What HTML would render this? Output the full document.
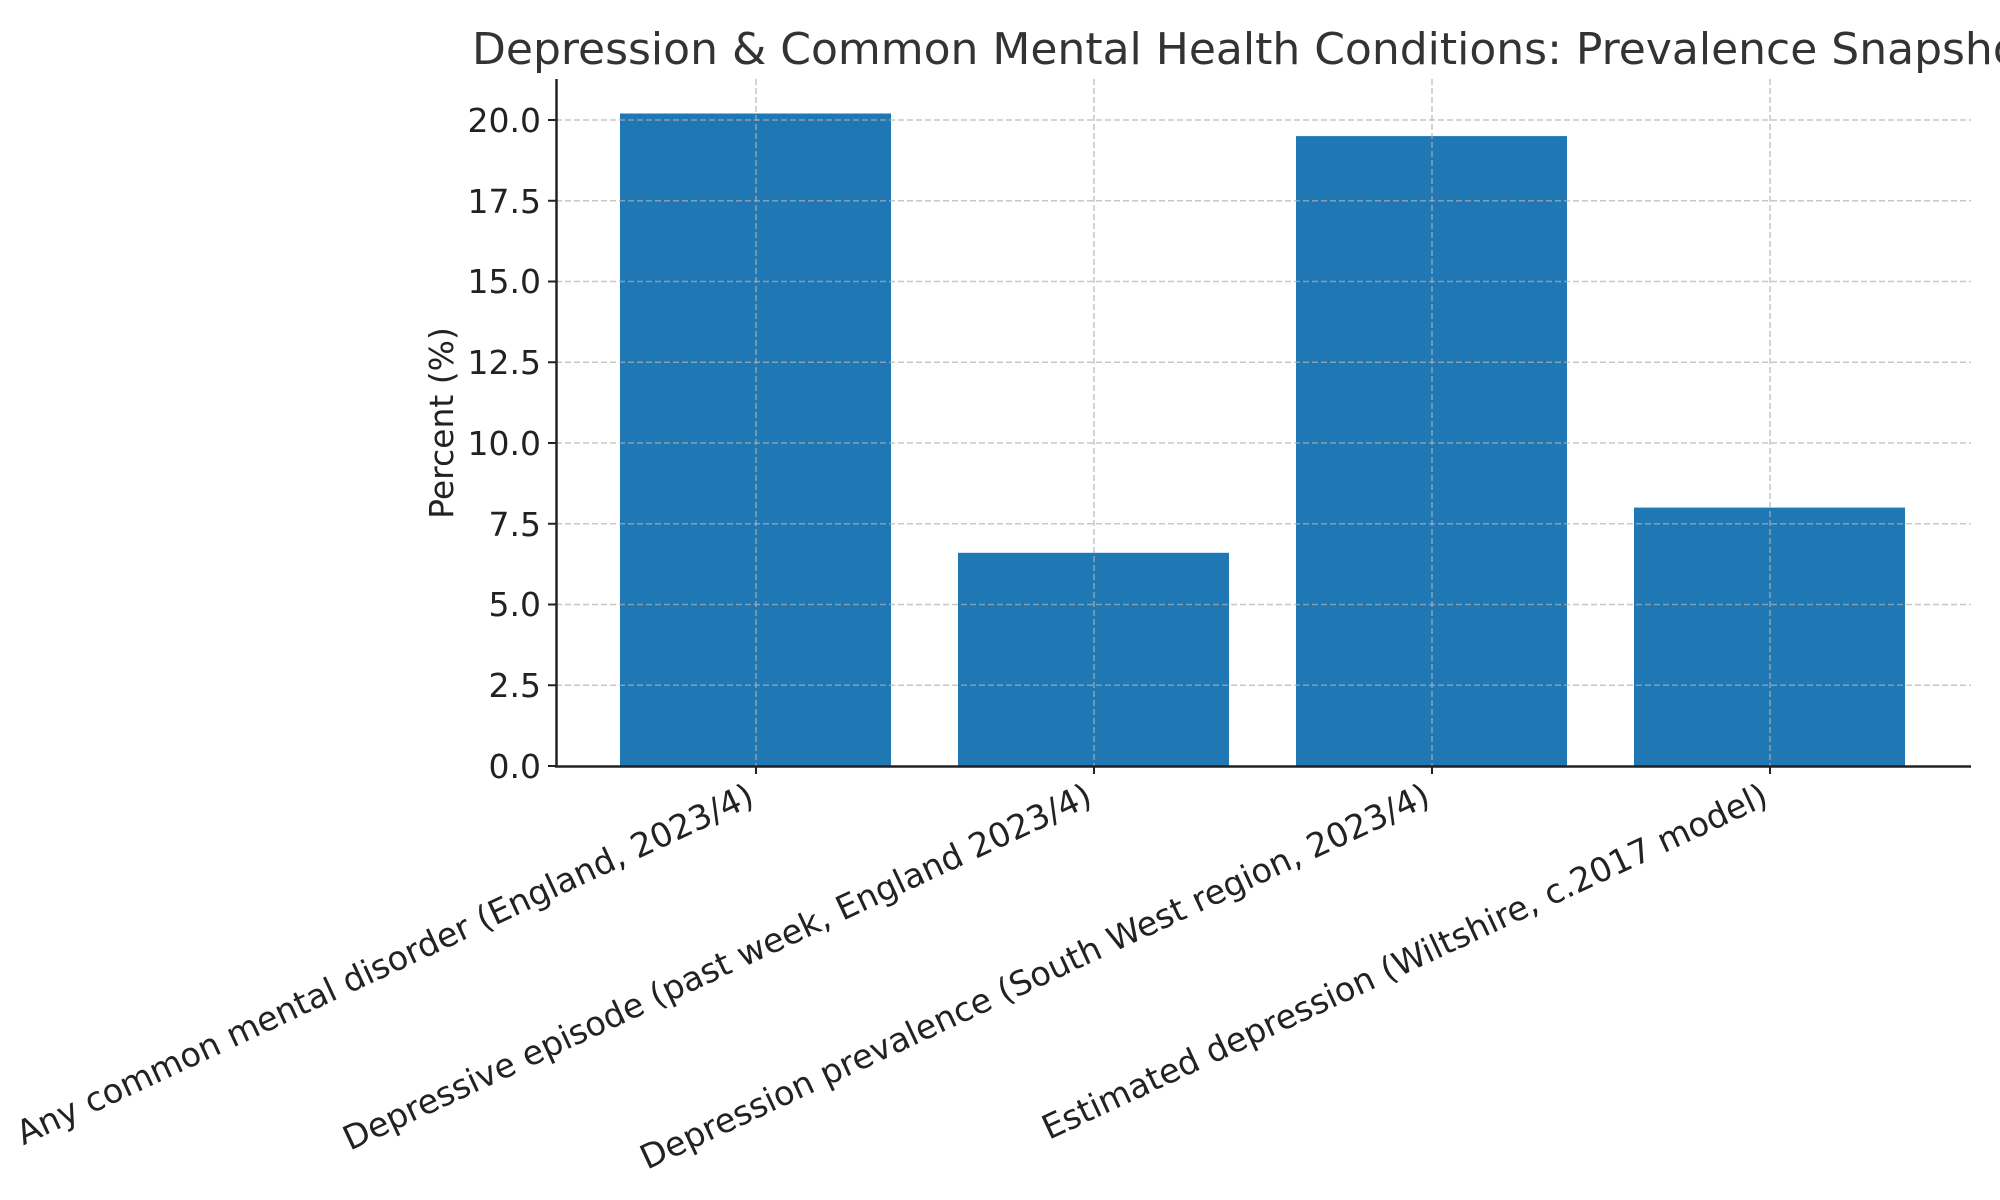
<!DOCTYPE html>
<html><head><meta charset="utf-8"><style>html,body{margin:0;padding:0;background:#fff}svg{display:block}</style></head>
<body>
<svg width="2000" height="1200" xmlns="http://www.w3.org/2000/svg" font-family="'DejaVu Sans','Liberation Sans',sans-serif">
<rect width="2000" height="1200" fill="#fff"/>
<g fill="#1f77b4">
<rect x="620" y="113.5" width="271" height="652.5"/>
<rect x="958" y="552.8" width="271" height="213.2"/>
<rect x="1296" y="136.1" width="271" height="629.9"/>
<rect x="1634" y="507.6" width="271" height="258.4"/>
</g>
<g stroke="#b0b0b0" stroke-opacity="0.7" stroke-width="1.6" stroke-dasharray="6,3">
<line x1="556" x2="1971" y1="685.25" y2="685.25"/>
<line x1="556" x2="1971" y1="604.5" y2="604.5"/>
<line x1="556" x2="1971" y1="523.75" y2="523.75"/>
<line x1="556" x2="1971" y1="443" y2="443"/>
<line x1="556" x2="1971" y1="362.25" y2="362.25"/>
<line x1="556" x2="1971" y1="281.5" y2="281.5"/>
<line x1="556" x2="1971" y1="200.75" y2="200.75"/>
<line x1="556" x2="1971" y1="120" y2="120"/>
<line x1="756" x2="756" y1="79" y2="766"/>
<line x1="1094" x2="1094" y1="79" y2="766"/>
<line x1="1432" x2="1432" y1="79" y2="766"/>
<line x1="1770" x2="1770" y1="79" y2="766"/>
</g>
<g stroke="#222" stroke-width="2.5">
<line x1="556.5" y1="79" x2="556.5" y2="767"/>
<line x1="555" y1="766.5" x2="1971" y2="766.5"/>
</g>
<g stroke="#222" stroke-width="2">
<line x1="548" x2="556" y1="766" y2="766"/><line x1="548" x2="556" y1="685.25" y2="685.25"/><line x1="548" x2="556" y1="604.5" y2="604.5"/><line x1="548" x2="556" y1="523.75" y2="523.75"/><line x1="548" x2="556" y1="443" y2="443"/><line x1="548" x2="556" y1="362.25" y2="362.25"/><line x1="548" x2="556" y1="281.5" y2="281.5"/><line x1="548" x2="556" y1="200.75" y2="200.75"/><line x1="548" x2="556" y1="120" y2="120"/>
<line x1="756" x2="756" y1="766" y2="774"/><line x1="1094" x2="1094" y1="766" y2="774"/><line x1="1432" x2="1432" y1="766" y2="774"/><line x1="1770" x2="1770" y1="766" y2="774"/>
</g>
<g font-size="33" fill="#222" text-anchor="end">
<text x="541" y="778">0.0</text><text x="541" y="697">2.5</text><text x="541" y="616">5.0</text><text x="541" y="536">7.5</text><text x="541" y="455">10.0</text><text x="541" y="374">12.5</text><text x="541" y="293">15.0</text><text x="541" y="213">17.5</text><text x="541" y="132">20.0</text>
</g>
<text transform="translate(453,423) rotate(-90)" font-size="33" fill="#222" text-anchor="middle">Percent (%)</text>
<g font-size="33.5" fill="#222" text-anchor="end">
<text transform="translate(746,782) rotate(-25)" dy="24">Any common mental disorder (England, 2023/4)</text>
<text transform="translate(1084,782) rotate(-25)" dy="24">Depressive episode (past week, England 2023/4)</text>
<text transform="translate(1422,782) rotate(-25)" dy="24">Depression prevalence (South West region, 2023/4)</text>
<text transform="translate(1760,782) rotate(-25)" dy="24">Estimated depression (Wiltshire, c.2017 model)</text>
</g>
<text x="472" y="64" font-size="44" fill="#333">Depression &amp; Common Mental Health Conditions: Prevalence Snapshot</text>
</svg>
</body></html>
